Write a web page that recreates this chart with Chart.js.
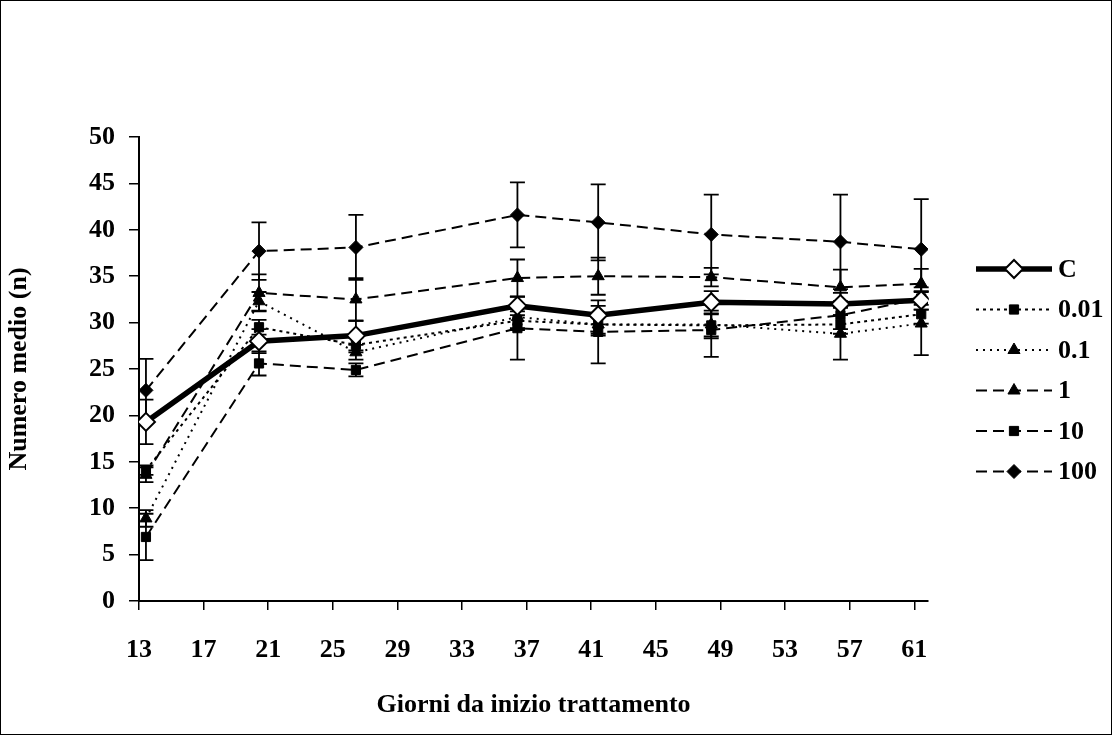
<!DOCTYPE html>
<html>
<head>
<meta charset="utf-8">
<script src="https://cdn.jsdelivr.net/npm/chart.js@4.4.0/dist/chart.umd.min.js"></script>
<style>
  html, body { margin: 0; padding: 0; background: #fff; }
  canvas { display: block; }
</style>
</head>
<body>
<canvas id="giorni" width="1112" height="735"></canvas>
<script>
// days of sampling and tick labels
const days = [13, 20, 26, 36, 41, 48, 56, 61];
const xTickLabels = [13, 17, 21, 25, 29, 33, 37, 41, 45, 49, 53, 57, 61];

// mean number per group, and error bar half-width
const valC = [19.3, 28.0, 28.6, 31.8, 30.8, 32.2, 32.0, 32.4];
const errC = [2.4, 1.3, 1.6, 1.0, 1.0, 1.2, 1.2, 1.0];
const val001 = [14.1, 29.5, 27.6, 30.2, 29.8, 29.7, 29.8, 30.9];
const err001 = [0.5, 0.8, 0.8, 1.0, 1.0, 1.2, 1.0, 1.0];
const val01 = [8.9, 32.3, 26.8, 30.6, 29.8, 29.8, 28.8, 29.9];
const err01 = [0.9, 1.0, 0.8, 1.2, 1.2, 1.5, 2.8, 3.4];
const val1 = [13.6, 33.2, 32.5, 34.8, 35.0, 34.9, 33.8, 34.2];
const err1 = [0.8, 2.0, 2.3, 2.0, 2.0, 1.0, 1.9, 1.6];
const val10 = [6.9, 25.6, 24.9, 29.4, 29.0, 29.2, 30.8, 32.6];
const err10 = [2.5, 1.3, 0.7, 3.4, 3.4, 2.9, 1.5, 1.2];
const val100 = [22.7, 37.7, 38.1, 41.6, 40.8, 39.5, 38.7, 37.9];
const err100 = [3.4, 3.1, 3.5, 3.5, 4.1, 4.3, 5.1, 5.4];

const FONT = "'Liberation Serif', 'Times New Roman', serif";
const FSIZE = 26;
const tickShift = 0.43; // labelled ticks sit a bit left of the day they name

function pts(vals) {
  return days.map((d, i) => ({ x: d, y: vals[i] }));
}

function series(label, vals, errs, style) {
  return Object.assign({
    label: label,
    data: pts(vals),
    errors: errs,
    borderColor: "#000",
    backgroundColor: "#000",
    pointBorderColor: "#000",
    pointBackgroundColor: "#000",
    pointBorderWidth: 1,
    borderWidth: 2,
    tension: 0,
  }, style);
}

const datasets = [
  series("C", valC, errC, { borderWidth: 5.5, pointStyle: "rectRot", pointRadius: 9, pointBackgroundColor: "#fff", pointBorderWidth: 2 }),
  series("0.01", val001, err001, { borderDash: [3, 4], pointStyle: "rect", pointRadius: 6.5 }),
  series("0.1", val01, err01, { borderDash: [2, 5], pointStyle: "triangle", pointRadius: 7 }),
  series("1", val1, err1, { borderDash: [11, 6], pointStyle: "triangle", pointRadius: 7 }),
  series("10", val10, err10, { borderDash: [11, 6], pointStyle: "rect", pointRadius: 6.5 }),
  series("100", val100, err100, { borderDash: [11, 6], pointStyle: "rectRot", pointRadius: 7 }),
];

const errorBars = {
  id: "errorBars",
  beforeDatasetsDraw(chart) {
    const { ctx, scales: { x, y } } = chart;
    ctx.save();
    ctx.strokeStyle = "#000";
    ctx.lineWidth = 1.8;
    chart.data.datasets.forEach(ds => {
      ds.data.forEach((p, i) => {
        const e = ds.errors[i];
        const px = x.getPixelForValue(p.x);
        const top = y.getPixelForValue(p.y + e);
        const bot = y.getPixelForValue(p.y - e);
        ctx.beginPath();
        ctx.moveTo(px, top); ctx.lineTo(px, bot);
        ctx.moveTo(px - 7.5, top); ctx.lineTo(px + 7.5, top);
        ctx.moveTo(px - 7.5, bot); ctx.lineTo(px + 7.5, bot);
        ctx.stroke();
      });
    });
    ctx.restore();
  }
};

// legend on the right, drawn with each dataset's own line and marker
const sideLegend = {
  id: "sideLegend",
  afterDraw(chart) {
    const ctx = chart.ctx;
    ctx.save();
    chart.data.datasets.forEach((ds, i) => {
      const yy = 269 + i * 40.5;
      ctx.beginPath();
      ctx.setLineDash(ds.borderDash || []);
      ctx.lineWidth = ds.borderWidth;
      ctx.strokeStyle = "#000";
      ctx.moveTo(976, yy);
      ctx.lineTo(1052, yy);
      ctx.stroke();
      ctx.setLineDash([]);
      ctx.fillStyle = ds.pointBackgroundColor;
      ctx.strokeStyle = "#000";
      ctx.lineWidth = ds.pointBorderWidth;
      Chart.helpers.drawPoint(ctx, { pointStyle: ds.pointStyle, radius: ds.pointRadius, borderWidth: ds.pointBorderWidth, rotation: 0 }, 1014, yy);
      ctx.fillStyle = "#000";
      ctx.font = "bold " + FSIZE + "px " + FONT;
      ctx.textBaseline = "middle";
      ctx.textAlign = "left";
      ctx.fillText(ds.label, 1058, yy + 1);
    });
    // outer frame
    ctx.strokeStyle = "#000";
    ctx.lineWidth = 1;
    ctx.strokeRect(0.5, 0.5, chart.width - 1, chart.height - 1);
    ctx.restore();
  }
};

new Chart(document.getElementById("giorni"), {
  type: "line",
  data: { datasets: datasets },
  plugins: [errorBars, sideLegend],
  options: {
    responsive: false,
    animation: false,
    layout: { padding: { left: 0, top: 137, right: 184, bottom: 0 } },
    plugins: {
      legend: { display: false },
      tooltip: { enabled: false },
    },
    scales: {
      x: {
        type: "linear",
        min: xTickLabels[0] - tickShift,
        max: 61.42,
        afterBuildTicks(scale) {
          scale.ticks = xTickLabels.map(v => ({ value: v - tickShift }));
        },
        afterFit(scale) { scale.height = 134; },
        border: { color: "#000", width: 2 },
        grid: { drawOnChartArea: false, drawTicks: true, tickLength: 9, color: "#000", lineWidth: 1.5 },
        ticks: {
          color: "#000",
          padding: 25,
          maxRotation: 0,
          autoSkip: false,
          font: { family: FONT, size: FSIZE, weight: "bold" },
          callback: v => Math.round(v),
        },
        title: {
          display: true,
          text: "Giorni da inizio trattamento",
          color: "#000",
          font: { family: FONT, size: FSIZE, weight: "bold" },
          padding: { top: 0, bottom: 14 },
        },
      },
      y: {
        min: 0,
        max: 50,
        afterFit(scale) { scale.width = 139; },
        border: { color: "#000", width: 2 },
        grid: { drawOnChartArea: false, drawTicks: true, tickLength: 10, color: "#000", lineWidth: 1.5 },
        ticks: {
          color: "#000",
          stepSize: 5,
          padding: 14,
          font: { family: FONT, size: FSIZE, weight: "bold" },
        },
        title: {
          display: true,
          text: "Numero medio (n)",
          color: "#000",
          font: { family: FONT, size: FSIZE, weight: "bold" },
          padding: { top: 4, bottom: 0 },
        },
      },
    },
  },
});
</script>
</body>
</html>
